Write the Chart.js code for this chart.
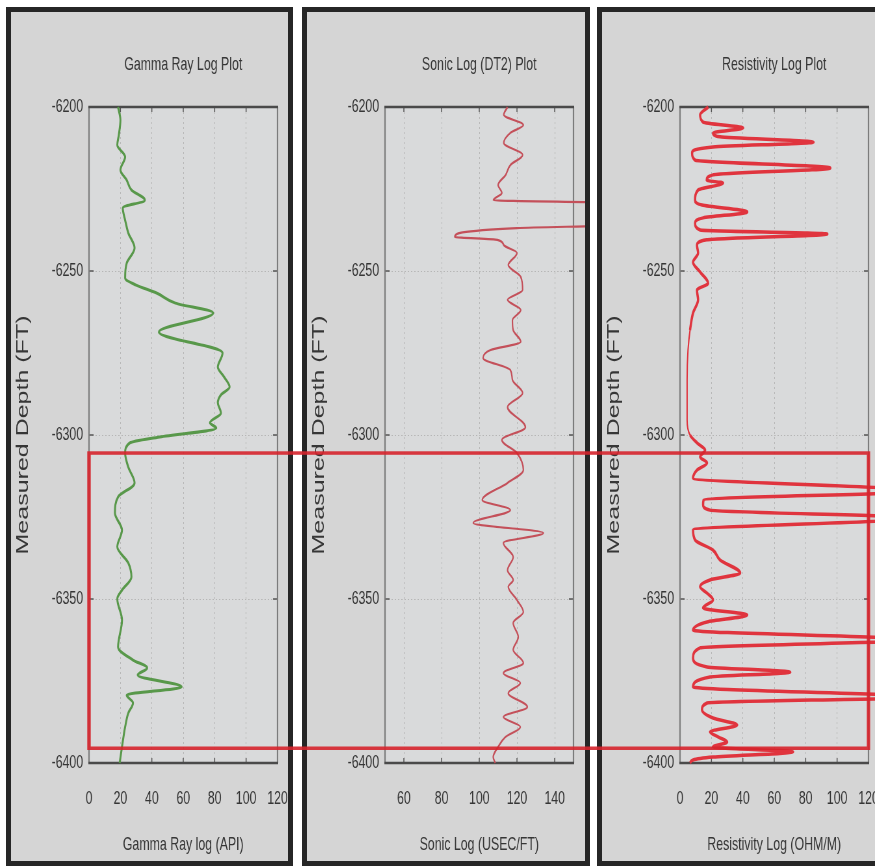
<!DOCTYPE html>
<html>
<head>
<meta charset="utf-8">
<script src="https://cdn.jsdelivr.net/npm/chart.js@4.4.0/dist/chart.umd.min.js"></script>
<style>
  html, body { margin: 0; padding: 0; background: #ffffff; }
  body { width: 875px; height: 866px; position: relative; overflow: hidden; }
  .painel {
    position: absolute; top: 7px; height: 859px;
    box-sizing: border-box; border: 5px solid #262626;
    background: #d5d5d5; overflow: hidden;
  }
  /* charts are drawn wide and squeezed sideways, like the narrow log tracks */
  .painel canvas {
    position: absolute; left: 0; top: 0;
    transform-origin: 0 0; transform: scaleX(0.65);
  }
  #p1 { left: 6px; width: 287px; }
  #p2 { left: 302px; width: 288px; }
  #p3 { left: 597px; width: 290px; }
  #zona { position: absolute; left: 0; top: 0; pointer-events: none; }
</style>
</head>
<body>
<div class="painel" id="p1"><canvas id="gamma" width="428" height="849"></canvas></div>
<div class="painel" id="p2"><canvas id="sonic" width="428" height="849"></canvas></div>
<div class="painel" id="p3"><canvas id="resist" width="428" height="849"></canvas></div>
<canvas id="zona" width="875" height="866"></canvas>

<script>
// depth ticks shared by the three tracks
var depthMin = -6400
var depthMax = -6200
var depthStep = 50
var depthTitle = 'Measured Depth (FT)'

// Gamma ray track
var gammaDepth = [
  -6200, -6204, -6208.5, -6211.6, -6215.2, -6219.2, -6222.3, -6225.3, -6228.4, -6230.8,
  -6234.5, -6238.4, -6243, -6247.6, -6252.1, -6254.3, -6256.7, -6259.8, -6262.8, -6268.6,
  -6275, -6279.3, -6282.3, -6285.4, -6287.8, -6290.2, -6293.3, -6296.3, -6297.9, -6300.6,
  -6302.4, -6305.5, -6309.8, -6314.6, -6318.9, -6323.8, -6329, -6334.1, -6339, -6343.3,
  -6347.3, -6350, -6356.4, -6364.6, -6368.6, -6371, -6373.2, -6376.8, -6379.3, -6381.7,
  -6384.8, -6389, -6395.1, -6400
]
var gammaValue = [
  18.5, 20, 19, 18, 23, 20, 24, 27, 35.5, 21.5,
  23, 25, 29, 24, 23, 30, 43, 55, 79, 44.5,
  85, 82, 86, 89.5, 84, 82, 84, 77, 81, 45,
  26, 23, 25, 29, 18.5, 16.5, 21, 18, 25, 27,
  21, 18, 21, 18.5, 28, 37, 31, 59, 24, 28,
  25, 23, 21, 19.5
]
var gammaTicks = [0, 20, 40, 60, 80, 100, 120]

// Sonic (DT2) track
var sonicDepth = [
  -6200, -6202.4, -6205.5, -6207.9, -6211, -6214.6, -6217.7, -6220.7, -6223.8, -6226.2,
  -6228.4, -6229.3, -6236, -6236.9, -6239.6, -6240.5, -6242.1, -6244.5, -6248.2, -6251.8,
  -6255.8, -6258.8, -6261.9, -6265, -6268, -6271.6, -6274.1, -6276.5, -6280.2, -6283.2,
  -6287.2, -6291.5, -6297.6, -6301.5, -6305.5, -6310.7, -6314.6, -6319.8, -6322.9, -6326.8,
  -6329.9, -6332.9, -6337.2, -6341.2, -6344.2, -6346.3, -6350.3, -6354, -6357.3, -6361.6,
  -6365.5, -6369.5, -6372.6, -6375.6, -6378.7, -6382.9, -6386, -6389, -6392.1, -6395.1,
  -6398.2, -6400
]
var sonicValue = [
  115, 113, 123.4, 116.5, 113, 123, 116.5, 114, 110, 112,
  107.5, 175, 175, 120, 87, 109.6, 113, 120, 115.4, 122,
  123, 115, 122, 117.6, 118, 122, 106, 102, 116.5, 117.6,
  123, 115, 124.5, 112, 120, 123.4, 115, 101.6, 116.5, 96.8,
  134, 112.8, 118, 115, 118, 115.4, 120, 123.4, 118, 120.7,
  118, 123.4, 112.8, 121.8, 115.4, 125.5, 112.8, 121.8, 113.8, 110,
  107.4, 108.5
]
var sonicTicks = [60, 80, 100, 120, 140]

// Resistivity track
var resistDepth = [
  -6200, -6202.4, -6204.6, -6206.4, -6207.9, -6209.1, -6210.7, -6212.2, -6214, -6216.2,
  -6218.6, -6220.7, -6222.3, -6223.2, -6225.3, -6228.4, -6229.9, -6232, -6233.8, -6235.4,
  -6237.5, -6238.7, -6240.5, -6242.1, -6244.5, -6247.3, -6250.3, -6253.7, -6255.8, -6258.8,
  -6262.8, -6268, -6274.1, -6283.2, -6295.4, -6300, -6302.4, -6304.6, -6306.7, -6308.5,
  -6310.7, -6313.1, -6317.1, -6319.8, -6321.3, -6322.9, -6325.3, -6329, -6332, -6335.1,
  -6338.1, -6342.1, -6344.2, -6346.3, -6348.2, -6350.3, -6352.7, -6354.9, -6357, -6359.5,
  -6362.5, -6364.9, -6368, -6370.7, -6372.3, -6373.8, -6376.8, -6379.9, -6381.7, -6383.8,
  -6386.3, -6388.4, -6390.5, -6392.1, -6393.6, -6395.1, -6396.6, -6398.2, -6399.1, -6400
]
var resistValue = [
  18, 12.8, 14.7, 40.2, 21, 25.5, 85, 21, 7.7, 9.6,
  95.7, 21, 17, 27.4, 11.5, 9.6, 14, 42.8, 14.7, 9.6,
  12.8, 93.8, 17, 10.8, 11.5, 8.3, 12.8, 17.9, 10.8, 11.5,
  8.3, 6.4, 5.1, 4.5, 4.5, 6.4, 10.8, 16, 12.8, 17.2,
  10.8, 8.3, 150, 15, 14.7, 19.1, 150, 8.3, 9.6, 21,
  25.5, 38.3, 19.1, 12.8, 17.2, 21, 14.7, 42.8, 17.2, 8.3,
  150, 12.8, 8.3, 17.2, 70.2, 19.1, 8.3, 150, 17.2, 14,
  21, 36.4, 19.1, 24.5, 30, 21, 72, 21, 8.3, 6.4
]
var resistTicks = [0, 20, 40, 60, 80, 100, 120]

// interval boxed in red across all tracks
var zoneTop = -6305.5
var zoneBase = -6395.5

var textColor = '#363636'
var fontFamily = "'Liberation Sans', Arial, sans-serif"

// plot background, frame and the small inward tick marks
var framePlugin = {
  id: 'moldura',
  beforeDraw: function(chart) {
    var a = chart.chartArea
    var ctx = chart.ctx
    ctx.save()
    ctx.fillStyle = '#d9dadb'
    ctx.fillRect(a.left, a.top, a.right - a.left, a.bottom - a.top)
    ctx.restore()
  },
  beforeDatasetsDraw: function(chart) {
    var a = chart.chartArea
    var ctx = chart.ctx
    var sx = chart.scales.x
    var sy = chart.scales.y
    ctx.save()
    ctx.strokeStyle = '#555555'
    ctx.lineWidth = 1.5
    sx.ticks.forEach(function(t) {
      var px = sx.getPixelForValue(t.value)
      if (px <= a.left + 1 || px >= a.right - 1) return
      ctx.beginPath()
      ctx.moveTo(px, a.top); ctx.lineTo(px, a.top + 5)
      ctx.moveTo(px, a.bottom); ctx.lineTo(px, a.bottom - 5)
      ctx.stroke()
    })
    sy.ticks.forEach(function(t) {
      var py = sy.getPixelForValue(t.value)
      if (py <= a.top + 1 || py >= a.bottom - 1) return
      ctx.beginPath()
      ctx.moveTo(a.left, py); ctx.lineTo(a.left + 7, py)
      ctx.moveTo(a.right, py); ctx.lineTo(a.right - 7, py)
      ctx.stroke()
    })
    // sides
    ctx.strokeStyle = '#7c7c7c'
    ctx.lineWidth = 2.2
    ctx.beginPath()
    ctx.moveTo(a.left, a.top); ctx.lineTo(a.left, a.bottom)
    ctx.moveTo(a.right, a.top); ctx.lineTo(a.right, a.bottom)
    ctx.stroke()
    // top and bottom
    ctx.strokeStyle = '#4a4a4a'
    ctx.lineWidth = 2.5
    ctx.beginPath()
    ctx.moveTo(a.left - 1, a.top); ctx.lineTo(a.right + 1, a.top)
    ctx.moveTo(a.left - 1, a.bottom); ctx.lineTo(a.right + 1, a.bottom)
    ctx.stroke()
    ctx.restore()
  }
}

function montarPontos(depths, values) {
  return depths.map(function(d, i) { return {x: values[i], y: d} })
}

function criarTrilha(canvasId, cfg) {
  var ctx = document.getElementById(canvasId).getContext('2d')
  var gridOpts = {
    color: '#b6b6b6',
    lineWidth: 1,
    drawTicks: false,
    borderDash: [2, 3]
  }
  var largura = cfg.width
  return new Chart(ctx, {
    type: 'line',
    data: {
      datasets: [{
        data: montarPontos(cfg.depths, cfg.values),
        xAxisID: 'x',
        yAxisID: 'y',
        borderColor: cfg.color,
        borderWidth: largura,
        pointRadius: 0,
        cubicInterpolationMode: 'monotone',
        clip: false,
        segment: {
          // quiet stretches of the log are drawn thinner
          borderWidth: function(s) {
            if (!cfg.thin) return largura
            return Math.max(s.p0.parsed.x, s.p1.parsed.x) < cfg.thin ? largura * 0.6 : largura
          }
        }
      }]
    },
    options: {
      indexAxis: 'y',
      responsive: false,
      animation: false,
      events: [],
      layout: { padding: { left: 0, right: 18, top: 0, bottom: 0 } },
      plugins: {
        legend: { display: false },
        tooltip: { enabled: false }
      },
      scales: {
        x: {
          type: 'linear',
          position: 'bottom',
          min: cfg.min,
          max: cfg.max,
          afterBuildTicks: function(scale) {
            scale.ticks = cfg.ticks.map(function(v) { return {value: v} })
          },
          ticks: {
            color: textColor,
            padding: 24,
            maxRotation: 0,
            font: { family: fontFamily, size: 19 }
          },
          grid: gridOpts,
          border: { display: false, dash: [2, 3] },
          title: {
            display: true,
            text: cfg.xTitle,
            color: textColor,
            font: { family: fontFamily, size: 19 },
            padding: { top: 0, bottom: 5 }
          },
          afterFit: function(scale) {
            scale.height = 98
            scale.paddingLeft = 0
            scale.paddingRight = 0
          }
        },
        cabecalho: {
          type: 'linear',
          position: 'top',
          ticks: { display: false },
          grid: { display: false },
          border: { display: false },
          title: {
            display: true,
            text: cfg.title,
            color: textColor,
            font: { family: fontFamily, size: 19 },
            padding: { top: 41, bottom: 0 }
          },
          afterFit: function(scale) { scale.height = 95 }
        },
        y: {
          type: 'linear',
          min: depthMin,
          max: depthMax,
          ticks: {
            stepSize: depthStep,
            color: textColor,
            padding: 9,
            font: { family: fontFamily, size: 19 },
            callback: function(v) { return String(v) }
          },
          grid: gridOpts,
          border: { display: false, dash: [2, 3] },
          title: {
            display: true,
            text: depthTitle,
            color: textColor,
            font: { family: fontFamily, size: 25 },
            padding: { top: 4, bottom: 0 }
          },
          afterFit: function(scale) {
            scale.width = 120
            scale.paddingTop = 0
            scale.paddingBottom = 0
          }
        }
      }
    },
    plugins: [framePlugin]
  })
}

// red box drawn over all three panels, placed from the depth scale
function desenharZona(first, last) {
  var cv = document.getElementById('zona')
  var ctx = cv.getContext('2d')
  var r1 = first.canvas.getBoundingClientRect()
  var r3 = last.canvas.getBoundingClientRect()
  var k1 = r1.width / first.width
  var k3 = r3.width / last.width
  var left = r1.left + first.chartArea.left * k1
  var right = r3.left + last.chartArea.right * k3
  var top = r1.top + first.scales.y.getPixelForValue(zoneTop)
  var bottom = r1.top + first.scales.y.getPixelForValue(zoneBase)
  ctx.strokeStyle = 'rgba(214, 36, 44, 0.9)'
  ctx.lineWidth = 3.5
  ctx.strokeRect(left, top, right - left, bottom - top)
}

document.addEventListener('DOMContentLoaded', function() {
  var gamma = criarTrilha('gamma', {
    depths: gammaDepth, values: gammaValue, ticks: gammaTicks,
    min: 0, max: 120, color: '#58984a', width: 3,
    title: 'Gamma Ray Log Plot', xTitle: 'Gamma Ray log (API)'
  })
  criarTrilha('sonic', {
    depths: sonicDepth, values: sonicValue, ticks: sonicTicks,
    min: 50, max: 150, color: '#c4505a', width: 2.2,
    title: 'Sonic Log (DT2) Plot', xTitle: 'Sonic Log (USEC/FT)'
  })
  var resist = criarTrilha('resist', {
    depths: resistDepth, values: resistValue, ticks: resistTicks,
    min: 0, max: 120, color: '#e0343e', width: 3.5, thin: 7,
    title: 'Resistivity Log Plot', xTitle: 'Resistivity Log (OHM/M)'
  })
  desenharZona(gamma, resist)
})
</script>
</body>
</html>
